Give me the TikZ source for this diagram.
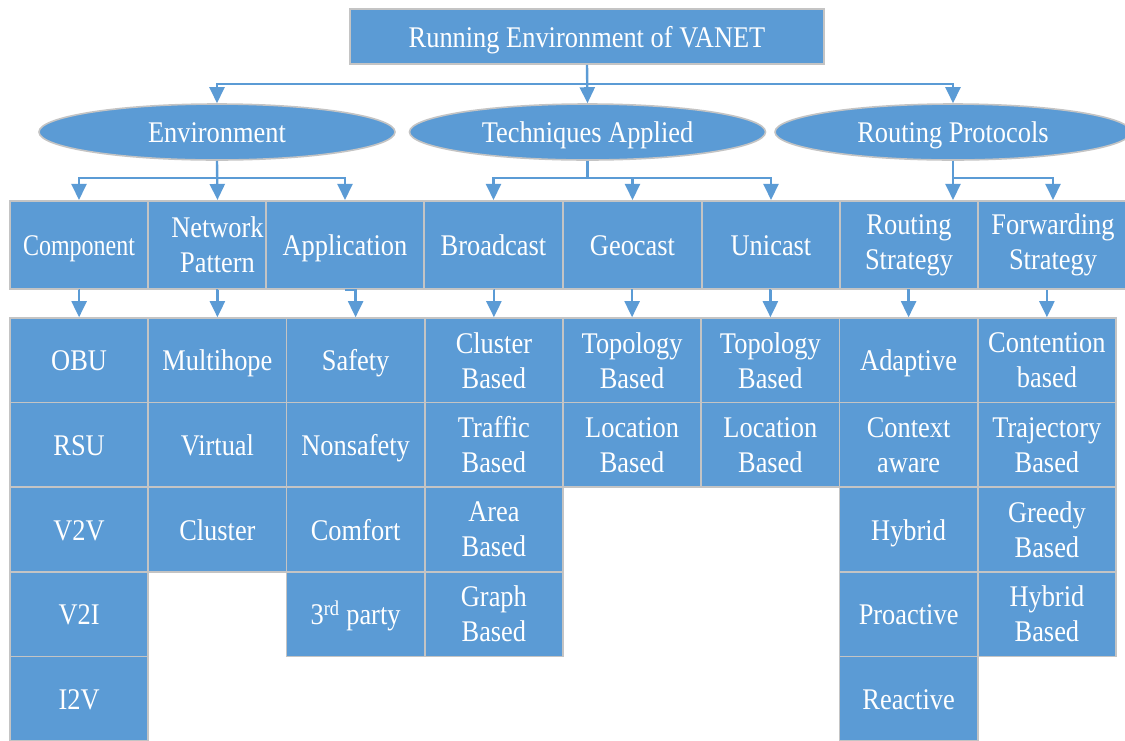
\documentclass[tikz,border=0pt]{standalone}
\usepackage{fontspec}
\setmainfont[FakeStretch=0.88]{Liberation Serif}
\usetikzlibrary{arrows.meta,shapes.geometric,positioning}

\definecolor{vblue}{RGB}{91,155,213}
\definecolor{rimgray}{RGB}{196,196,196}

\tikzset{
  box/.style={rectangle,draw=rimgray,fill=vblue,text=white,line width=1.6pt,inner sep=0pt,align=center,font=\fontsize{30}{35}\selectfont},
  oneline/.style={text height=26pt,text depth=5pt},
  cell/.style={box,minimum width=138.25pt,minimum height=84.6pt},
  cellone/.style={cell,oneline},
  head/.style={box,minimum height=88.5pt},
  headone/.style={head,oneline},
  oval/.style={ellipse,draw=rimgray,fill=vblue,text=white,line width=1.6pt,minimum width=356pt,minimum height=56pt,inner sep=0pt,oneline,font=\fontsize{30}{35}\selectfont},
  link/.style={draw=vblue,line width=2.4pt}
}

\begin{document}
\begin{tikzpicture}[x=1pt,y=-1pt,->,>={Triangle[width=15pt,length=16pt]},node distance=84.6pt]
  \useasboundingbox (0,0) rectangle (1125,740);

  % top and the three branches
  \node[box,oneline,minimum width=474pt,minimum height=55pt] (title) at (587,36.5) {Running Environment of VANET};
  \node[oval] (env) at (217,132) {Environment};
  \node[oval] (tech) at (587.5,132) {Techniques Applied};
  \node[oval] (proto) at (953,132) {Routing Protocols};

  % second level
  \node[headone,minimum width=138pt] (comp) at (79,245) {\addfontfeature{FakeStretch=0.8}Component};
  \node[head,minimum width=139pt] (netpat) at (217.5,245) {Network\\Pattern};
  \node[headone,minimum width=158pt] (app) at (345,245) {Application};
  \node[headone,minimum width=139pt] (bcast) at (493.5,245) {Broadcast};
  \node[headone,minimum width=139pt] (gcast) at (632.5,245) {Geocast};
  \node[headone,minimum width=138pt] (ucast) at (771,245) {Unicast};
  \node[head,minimum width=138pt] (rstrat) at (909,245) {Routing\\Strategy};
  \node[head,minimum width=150pt] (fstrat) at (1053,245) {Forwarding\\Strategy};

  % leaves
  \node[cellone] (obu) at (79.1,360.3) {OBU};
  \node[cellone] (rsu) [below of = obu] {RSU};
  \node[cellone] (vtv) [below of = rsu] {V2V};
  \node[cellone] (vti) [below of = vtv] {V2I};
  \node[cellone] (itv) [below of = vti] {I2V};

  \node[cellone] (multihop) at (217.4,360.3) {Multihope};
  \node[cellone] (virt) [below of = multihop] {Virtual};
  \node[cellone] (clus) [below of = virt] {Cluster};

  \node[cellone] (safety) at (355.6,360.3) {Safety};
  \node[cellone] (nonsafety) [below of = safety] {Nonsafety};
  \node[cellone] (comfort) [below of = nonsafety] {Comfort};
  \node[cellone] (third) [below of = comfort] {3\textsuperscript{rd} party};

  \node[cell] (clusb) at (493.9,360.3) {Cluster\\Based};
  \node[cell] (traffb) [below of = clusb] {Traffic\\Based};
  \node[cell] (areab) [below of = traffb] {Area\\Based};
  \node[cell] (graphb) [below of = areab] {Graph\\Based};

  \node[cell] (gtopo) at (632.1,360.3) {Topology\\Based};
  \node[cell] (gloc) [below of = gtopo] {Location\\Based};

  \node[cell] (utopo) at (770.4,360.3) {Topology\\Based};
  \node[cell] (uloc) [below of = utopo] {Location\\Based};

  \node[cellone] (adapt) at (908.6,360.3) {Adaptive};
  \node[cell] (context) [below of = adapt] {Context\\aware};
  \node[cellone] (hyb) [below of = context] {Hybrid};
  \node[cellone] (proact) [below of = hyb] {Proactive};
  \node[cellone] (react) [below of = proact] {Reactive};

  \node[cell] (contn) at (1046.9,360.3) {Contention\\based};
  \node[cell] (traj) [below of = contn] {Trajectory\\Based};
  \node[cell] (greedy) [below of = traj] {Greedy\\Based};
  \node[cell] (hybb) [below of = greedy] {Hybrid\\Based};

  % connectors
  \draw[link] (title.south) -- (tech.north);
  \draw[link] (title.south) -- ++(0,19) -| (env.north);
  \draw[link] (title.south) -- ++(0,19) -| (proto.north);

  \draw[link] (env.south) -- (netpat.north);
  \draw[link] (env.south) -- ++(0,17) -| (comp.north);
  \draw[link] (env.south) -- ++(0,17) -| (app.north);
  \draw[link] (tech.south) -- ++(0,17) -| (bcast.north);
  \draw[link] (tech.south) -- ++(0,17) -| (gcast.north);
  \draw[link] (tech.south) -- ++(0,17) -| (ucast.north);
  \draw[link] (proto.south) -- (proto.south |- rstrat.north);
  \draw[link] (proto.south) -- ++(0,17) -| (fstrat.north);

  \draw[link] (comp.south) -| (obu.north);
  \draw[link] (netpat.south) -| (multihop.north);
  \draw[link] (app.south) -| (safety.north);
  \draw[link] (bcast.south) -| (clusb.north);
  \draw[link] (gcast.south) -| (gtopo.north);
  \draw[link] (ucast.south) -| (utopo.north);
  \draw[link] (rstrat.south) -| (adapt.north);
  \draw[link] (fstrat.south -| contn.north) -- (contn.north);
\end{tikzpicture}
\end{document}
